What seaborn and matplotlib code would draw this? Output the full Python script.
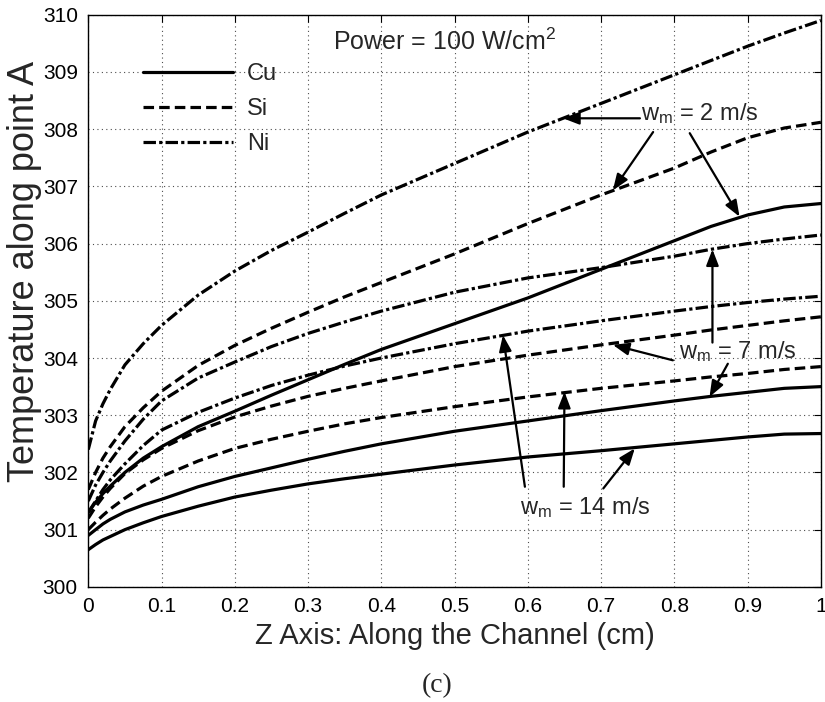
import matplotlib
matplotlib.use("Agg")
import matplotlib.pyplot as plt
import seaborn as sns
import pandas as pd
from matplotlib.lines import Line2D

# ---------------- data ----------------
z = [0.0, 0.01, 0.02, 0.03, 0.05, 0.075, 0.1, 0.15, 0.2, 0.25, 0.3, 0.35, 0.4,
     0.5, 0.6, 0.7, 0.8, 0.85, 0.9, 0.95, 1.0]

ni_2 = [302.40, 302.90, 303.20, 303.45, 303.88, 304.25, 304.57, 305.10, 305.52, 305.88, 306.20, 306.53, 306.85,
        307.40, 307.95, 308.45, 308.95, 309.20, 309.45, 309.68, 309.90]
si_2 = [301.70, 302.00, 302.25, 302.45, 302.80, 303.13, 303.42, 303.87, 304.22, 304.52, 304.80, 305.07, 305.32,
        305.82, 306.35, 306.85, 307.32, 307.60, 307.85, 308.02, 308.12]
cu_2 = [301.30, 301.48, 301.63, 301.76, 302.00, 302.25, 302.45, 302.80, 303.07, 303.35, 303.62, 303.89, 304.15,
        304.60, 305.05, 305.55, 306.05, 306.30, 306.50, 306.64, 306.70]

ni_7 = [301.50, 301.78, 302.00, 302.20, 302.55, 302.93, 303.25, 303.65, 303.93, 304.20, 304.43, 304.63, 304.82,
        305.15, 305.40, 305.58, 305.78, 305.90, 306.00, 306.08, 306.15]
si_7 = [301.20, 301.40, 301.57, 301.72, 301.98, 302.22, 302.42, 302.73, 302.97, 303.16, 303.33, 303.47, 303.60,
        303.85, 304.05, 304.23, 304.40, 304.49, 304.57, 304.65, 304.72]
cu_7 = [300.90, 301.00, 301.10, 301.18, 301.31, 301.43, 301.53, 301.75, 301.93, 302.08, 302.23, 302.37, 302.50,
        302.72, 302.90, 303.08, 303.25, 303.33, 303.40, 303.47, 303.50]

ni_14 = [301.30, 301.50, 301.70, 301.87, 302.15, 302.47, 302.74, 303.05, 303.30, 303.52, 303.70, 303.86, 304.00,
         304.25, 304.47, 304.65, 304.82, 304.90, 304.97, 305.03, 305.08]
si_14 = [301.00, 301.13, 301.25, 301.36, 301.55, 301.76, 301.93, 302.20, 302.42, 302.58, 302.72, 302.85, 302.96,
         303.15, 303.32, 303.47, 303.60, 303.67, 303.73, 303.80, 303.85]
cu_14 = [300.65, 300.74, 300.82, 300.88, 301.00, 301.12, 301.23, 301.41, 301.57, 301.69, 301.80, 301.89, 301.97,
         302.13, 302.27, 302.38, 302.50, 302.56, 302.62, 302.67, 302.68]

materials = ["Cu", "Si", "Ni"]
velocities = ["2", "7", "14"]
series = {
    ("Cu", "2"): cu_2, ("Si", "2"): si_2, ("Ni", "2"): ni_2,
    ("Cu", "7"): cu_7, ("Si", "7"): si_7, ("Ni", "7"): ni_7,
    ("Cu", "14"): cu_14, ("Si", "14"): si_14, ("Ni", "14"): ni_14,
}

x_ticks = [0, 0.1, 0.2, 0.3, 0.4, 0.5, 0.6, 0.7, 0.8, 0.9, 1]
x_tick_labels = ["0", "0.1", "0.2", "0.3", "0.4", "0.5", "0.6", "0.7", "0.8", "0.9", "1"]
y_ticks = [300, 301, 302, 303, 304, 305, 306, 307, 308, 309, 310]

# ---------------- style ----------------
sns.set_style("white")
plt.rcParams["font.family"] = ["Liberation Sans", "DejaVu Sans"]
plt.rcParams["mathtext.default"] = "regular"

linestyles = {
    "Cu": "-",
    "Si": (0, (3.3, 1.6)),
    "Ni": (0, (3.9, 1.0, 1.0, 1.0)),
}
LW = 2.3

rows = []
for (mat, vel), vals in series.items():
    for zi, ti in zip(z, vals):
        rows.append({"z": zi, "T": ti, "material": mat, "velocity": vel})
df = pd.DataFrame(rows)

fig = plt.figure(figsize=(8.25, 7.02), dpi=100)
ax = fig.add_axes([0.107, 0.164, 0.888, 0.815])

for mat in materials:
    for vel in velocities:
        sub = df[(df.material == mat) & (df.velocity == vel)]
        sns.lineplot(data=sub, x="z", y="T", ax=ax, color="black",
                     linewidth=LW, linestyle=linestyles[mat],
                     estimator=None, sort=True, legend=False)

ax.set_xlim(0, 1)
ax.set_ylim(300, 310)
ax.set_xticks(x_ticks)
ax.set_xticklabels(x_tick_labels)
ax.set_yticks(y_ticks)
ax.tick_params(direction="in", top=True, right=True, length=5, width=0.8,
               labelsize=15, colors="black", pad=7.5)
ax.grid(True, color="0.3", linestyle=(0, (1, 3)), linewidth=0.8)
for sp in ax.spines.values():
    sp.set_color("black")
    sp.set_linewidth(1.0)

ax.set_xlabel("Z Axis: Along the Channel (cm)", fontsize=21,
              family=["Liberation Sans Narrow", "Liberation Sans"], labelpad=4)
ax.set_ylabel("Temperature along point A", fontsize=26)
ax.yaxis.set_label_coords(-0.063, 0.551)

# legend
handles = [Line2D([], [], color="black", lw=LW, linestyle=linestyles[m]) for m in materials]
ax.legend(handles, materials, loc="upper left", bbox_to_anchor=(0.075, 0.916),
          frameon=False, fontsize=17, handlelength=3.8, handletextpad=0.6,
          labelspacing=0.56, borderpad=0, borderaxespad=0)

# annotations
ax.text(0.334, 309.38, "Power = 100 W/cm$^2$", fontsize=18, ha="left", va="baseline")

txt = dict(fontsize=17, ha="left", va="baseline")
ax.text(0.755, 308.16, "w$_m$ = 2 m/s", **txt)
ax.text(0.807, 303.99, "w$_m$ = 7 m/s", **txt)
ax.text(0.589, 301.28, "w$_m$ = 14 m/s", **txt)

arrow = dict(arrowstyle="-|>,head_length=0.65,head_width=0.25", color="black",
             lw=1.6, shrinkA=0, shrinkB=0, mutation_scale=15)
arrows = [
    ((0.753, 308.19), (0.648, 308.19)),
    ((0.771, 307.95), (0.716, 306.93)),
    ((0.821, 307.93), (0.889, 306.47)),
    ((0.852, 304.27), (0.852, 305.90)),
    ((0.798, 303.96), (0.716, 304.23)),
    ((0.873, 303.90), (0.848, 303.32)),
    ((0.596, 301.75), (0.566, 304.40)),
    ((0.649, 301.75), (0.650, 303.41)),
    ((0.703, 301.72), (0.746, 302.42)),
]
for tail, tip in arrows:
    ax.annotate("", xy=tip, xytext=tail, arrowprops=arrow)

fig.text(0.53, 0.024, "(c)", fontsize=20, family=["Liberation Serif", "DejaVu Serif"],
         ha="center", va="center")

fig.savefig("out.png", dpi=100)
